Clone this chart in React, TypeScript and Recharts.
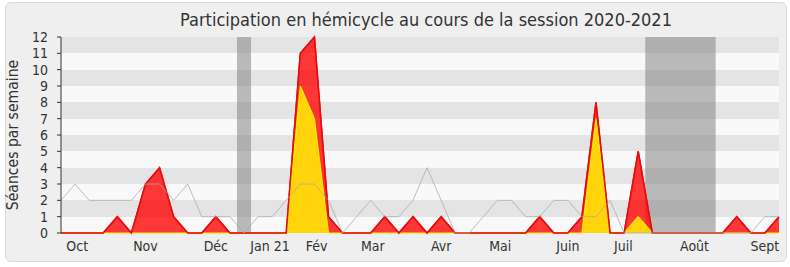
import {
  ComposedChart,
  Area,
  Line,
  XAxis,
  YAxis,
  CartesianGrid,
  ReferenceArea,
} from "recharts";

// semaines de la session (index 0 = fin septembre 2020)
const semaines = [
  0, 1, 2, 3, 4, 5, 6, 7, 8, 9, 10, 11, 12, 13, 14, 15, 16, 17, 18, 19, 20, 21, 22, 23, 24, 25,
  26, 27, 28, 29, 30, 31, 32, 33, 34, 35, 36, 37, 38, 39, 40, 41, 42, 43, 44, 45, 46, 47, 48, 49, 50, 51,
];

// présences (rouge)
const presences = [
  0, 0, 0, 0, 1, 0, 3, 4, 1, 0, 0, 1, 0, 0, 0, 0, 0, 11, 12, 1, 0, 0, 0, 1, 0, 1,
  0, 1, 0, 0, 0, 0, 0, 0, 1, 0, 0, 1, 8, 0, 0, 5, 0, 0, 0, 0, 0, 0, 1, 0, 0, 1,
];

// interventions (jaune)
const interventions = [
  0, 0, 0, 0, 0, 0, 0, 0, 0, 0, 0, 0, 0, 0, 0, 0, 0, 9, 7, 0, 0, 0, 0, 0, 0, 0,
  0, 0, 0, 0, 0, 0, 0, 0, 0, 0, 0, 0, 7, 0, 0, 1, 0, 0, 0, 0, 0, 0, 0, 0, 0, 0,
];

// médiane des députés (gris)
const mediane = [
  2, 3, 2, 2, 2, 2, 3, 3, 2, 3, 1, 1, 1, 0, 1, 1, 2, 3, 3, 2, 0, 1, 2, 1, 1, 2,
  4, 2, 0, 0, 1, 2, 2, 1, 1, 2, 2, 1, 1, 2, 0, 0, 0, 0, 0, 0, 0, 0, 0, 0, 1, 1,
];

const moisPositions = [1.15, 6, 11, 14.85, 18.15, 22.15, 27, 31.2, 36, 39.95, 45, 50];
const moisLabels = ["Oct", "Nov", "Déc", "Jan 21", "Fév", "Mar", "Avr", "Mai", "Juin", "Juil", "Août", "Sept"];

const vacancesDebut = [12.5, 41.5];
const vacancesFin = [13.5, 46.5];

const yTicks = [0, 1, 2, 3, 4, 5, 6, 7, 8, 9, 10, 11, 12];

const data = semaines.map((s, i) => ({
  semaine: s,
  presences: presences[i],
  interventions: interventions[i],
  mediane: mediane[i],
}));

const FONT = "'DejaVu Sans Condensed', 'DejaVu Sans', sans-serif";

const rien = () => <g />;

function TitreAxeY(props: any) {
  const { x, y, height } = props.viewBox;
  const cx = x + 13;
  const cy = y + height / 2;
  return (
    <text
      x={cx}
      y={cy}
      transform={`rotate(-90 ${cx} ${cy})`}
      textAnchor="middle"
      dominantBaseline="central"
      fontFamily={FONT}
      fontSize={15.6}
      fill="#333"
    >
      Séances par semaine
    </text>
  );
}

export default function App() {
  return (
    <div style={{ position: "absolute", left: 0, top: 0, width: 790, height: 267, fontFamily: FONT }}>
      <div
        style={{
          position: "absolute",
          left: 5,
          top: 2,
          width: 780,
          height: 258,
          background: "#efefef",
          border: "1px solid #dadada",
          borderRadius: 6,
        }}
      />
      <div
        style={{
          position: "absolute",
          left: 61,
          top: 9,
          width: 730,
          textAlign: "center",
          fontSize: 18,
          lineHeight: "22px",
          color: "#333",
        }}
      >
        Participation en hémicycle au cours de la session 2020-2021
      </div>
      <div style={{ position: "absolute", left: 0, top: 0 }}>
        <ComposedChart width={790} height={267} data={data} margin={{ top: 37, right: 11, bottom: 0, left: 0 }}>
          <CartesianGrid
            xAxisId="semaines"
            vertical={false}
            stroke="none"
            horizontalFill={["#e4e4e4", "#f9f9f9"]}
            fillOpacity={1}
          />
          {vacancesDebut.map((d, i) => (
            <ReferenceArea
              key={d}
              xAxisId="semaines"
              x1={d}
              x2={vacancesFin[i]}
              fill="#7a7a7a"
              fillOpacity={0.5}
              stroke="none"
            />
          ))}
          <Area
            xAxisId="semaines"
            type="linear"
            dataKey="presences"
            fill="#ff0000"
            fillOpacity={0.78}
            stroke="#ff1010"
            strokeWidth={1.5}
            isAnimationActive={false}
          />
          <Area
            xAxisId="semaines"
            type="linear"
            dataKey="interventions"
            fill="#ffd40a"
            fillOpacity={1}
            stroke="#ffee00"
            strokeWidth={1.2}
            isAnimationActive={false}
          />
          <Line
            xAxisId="semaines"
            type="linear"
            dataKey="presences"
            stroke="#e01010"
            strokeWidth={1.5}
            dot={false}
            legendType="none"
            isAnimationActive={false}
          />
          <Line
            xAxisId="semaines"
            type="linear"
            dataKey="mediane"
            stroke="#a8a8a8"
            strokeOpacity={0.75}
            strokeWidth={1}
            dot={false}
            isAnimationActive={false}
          />
          <XAxis
            xAxisId="haut"
            orientation="top"
            type="number"
            dataKey="semaine"
            domain={[0, 51]}
            ticks={semaines}
            height={0}
            axisLine={false}
            tickSize={1.5}
            tick={rien}
            stroke="#000"
          />
          <XAxis
            xAxisId="semaines"
            type="number"
            dataKey="semaine"
            domain={[0, 51]}
            ticks={semaines}
            height={0}
            tickSize={5}
            tick={rien}
            stroke="#333"
            interval={0}
          />
          <XAxis
            xAxisId="mois"
            type="number"
            dataKey="semaine"
            domain={[0, 51]}
            ticks={moisPositions}
            tickFormatter={(v: number) => moisLabels[moisPositions.indexOf(v)]}
            height={34}
            axisLine={false}
            tickLine={false}
            tickSize={0}
            tickMargin={8}
            interval={0}
            tick={{ fontSize: 14, fill: "#333", fontFamily: FONT }}
          />
          <YAxis
            width={61}
            domain={[0, 12]}
            ticks={yTicks}
            interval={0}
            tickSize={4}
            tickMargin={9}
            stroke="#333"
            tick={{ fontSize: 14, fill: "#333", fontFamily: FONT }}
            label={{ content: TitreAxeY }}
          />
        </ComposedChart>
      </div>
    </div>
  );
}
